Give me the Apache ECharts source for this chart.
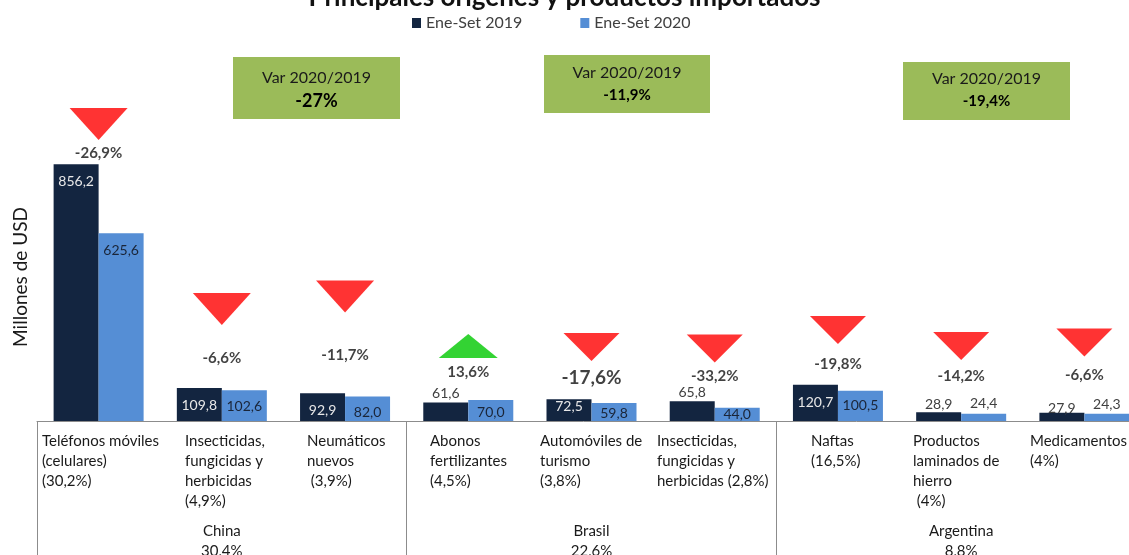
<!DOCTYPE html>
<html>
<head>
<meta charset="utf-8">
<script src="https://cdn.jsdelivr.net/npm/echarts@6/dist/echarts.min.js"></script>
<style>
html,body{margin:0;padding:0;background:#fff;}
#chart{width:1129px;height:555px;}
</style>
</head>
<body>
<div id="chart"></div>
<script>
// ---- data ----
const categories = [
  'Teléfonos móviles\n(celulares)\n(30,2%)',
  'Insecticidas,\nfungicidas y\nherbicidas\n(4,9%)',
  'Neumáticos\nnuevos\n (3,9%)',
  'Abonos\nfertilizantes\n(4,5%)',
  'Automóviles de\nturismo\n(3,8%)',
  'Insecticidas,\nfungicidas y\nherbicidas (2,8%)',
  'Naftas\n(16,5%)',
  'Productos\nlaminados de\nhierro\n (4%)',
  'Medicamentos\n(4%)'
];
const origins = ['China\n30,4%', 'Brasil\n22,6%', 'Argentina\n8,8%'];
const seriesNames = ['Ene-Set 2019', 'Ene-Set 2020'];
const v2019 = [856.2, 109.8, 92.9, 61.6, 72.5, 65.8, 120.7, 28.9, 27.9];
const v2020 = [625.6, 102.6, 82.0, 70.0, 59.8, 44.0, 100.5, 24.4, 24.3];
const varPct = ['-26,9%', '-6,6%', '-11,7%', '13,6%', '-17,6%', '-33,2%', '-19,8%', '-14,2%', '-6,6%'];
const groupVar = ['-27%', '-11,9%', '-19,4%'];
const boxTitle = 'Var 2020/2019';
// annotation levels (in axis units) for arrows and their % labels
const arrowLevel = [990, 373, 415, 250, 247, 242, 303, 250, 262];
const pctLevel = [893, 210, 220, 163, 143, 150, 190, 150, 153];

// ---- styles ----
const C_DARK = '#132540';
const C_LIGHT = '#558ed5';
const FONT = 'Lato, "Open Sans", sans-serif';
// label placement per bar: [position, distance]
const lab2019 = [['insideTop',10],['insideTop',10],['insideTop',10],['top',2],['insideTop',0],['top',2],['insideTop',11],['top',1],['top',-3]];
const lab2020 = [['insideTop',10],['insideTop',9],['insideTop',9],['insideTop',5],['insideTop',3],['insideTop',0],['insideTop',8],['top',3],['top',2]];
const textLeft = [42, 185, 307, 430, 540, 657, 811, 913, 1030];
const gridLeft = 37, gridWidth = 1109;
const catW = gridWidth / categories.length;

function barItems(vals, labs, insideColor) {
  return vals.map((v, i) => ({
    value: v,
    label: {
      position: labs[i][0],
      distance: labs[i][1],
      color: labs[i][0] === 'top' ? '#404040' : insideColor
    }
  }));
}

const rich = {};
categories.forEach((c, i) => {
  const center = gridLeft + catW * (i + 0.5);
  rich['s' + i] = { width: 2 * (center - textLeft[i]), align: 'left', fontSize: 15, lineHeight: 20, color: '#1a1a1a', fontFamily: FONT };
});

const boxes = [
  { x: 233, y: 57, w: 167, h: 62, t1: 78, t2: 101, big: 18 },
  { x: 544, y: 55, w: 166, h: 58, t1: 73, t2: 95, big: 15 },
  { x: 903, y: 62, w: 167, h: 58, t1: 79, t2: 101, big: 15 }
];
const graphics = [];
boxes.forEach((b, i) => {
  graphics.push({ type: 'rect', shape: { x: b.x, y: b.y, width: b.w, height: b.h }, style: { fill: '#9bbb59' }, z: 10 });
  graphics.push({ type: 'text', x: b.x + b.w / 2, y: b.t1, style: { text: boxTitle, fill: '#1a1a1a', font: '16px ' + FONT, textAlign: 'center', textVerticalAlign: 'middle' }, z: 11 });
  graphics.push({ type: 'text', x: b.x + b.w / 2, y: b.t2, style: { text: groupVar[i], fill: '#000', font: 'bold ' + b.big + 'px ' + FONT, textAlign: 'center', textVerticalAlign: 'middle' }, z: 11 });
});

const chart = echarts.init(document.getElementById('chart'));
chart.setOption({
  animation: false,
  backgroundColor: '#ffffff',
  title: {
    text: 'Principales orígenes y productos importados',
    left: 'center', top: -20,
    textStyle: { fontSize: 26, fontWeight: 'bold', color: '#111', fontFamily: FONT }
  },
  legend: {
    data: seriesNames,
    top: 10, left: 407,
    itemWidth: 9, itemHeight: 10, itemGap: 58,
    icon: 'rect',
    textStyle: { fontSize: 16, color: '#404040', fontFamily: FONT }
  },
  grid: { left: gridLeft, width: gridWidth, top: 121, height: 300, containLabel: false, outerBoundsMode: 'none' },
  xAxis: [
    {
      type: 'category', data: categories,
      axisLine: { show: true, lineStyle: { color: '#8c8c8c', width: 1 } },
      axisTick: { show: false },
      axisLabel: {
        interval: 0, margin: 10,
        formatter: (val, idx) => val.split('\n').map(l => '{s' + idx + '|' + l + '}').join('\n'),
        rich: rich
      }
    },
    {
      type: 'category', data: origins, position: 'bottom',
      axisLine: { show: false },
      axisTick: { show: true, length: 140, lineStyle: { color: '#8c8c8c', width: 1 } },
      axisLabel: { interval: 0, margin: 100, fontSize: 15, lineHeight: 20, color: '#1a1a1a', fontFamily: FONT }
    }
  ],
  yAxis: {
    type: 'value', min: 0, max: 1000,
    axisLine: { show: false }, axisTick: { show: false }, axisLabel: { show: false }, splitLine: { show: false },
    name: 'Millones de USD', nameLocation: 'middle', nameGap: 7,
    nameTextStyle: { fontSize: 19, color: '#1a1a1a', fontFamily: FONT, padding: [0, 12, 0, 0] }
  },
  graphic: graphics,
  series: [
    {
      name: seriesNames[0], type: 'bar', barWidth: 45, barGap: '0%',
      itemStyle: { color: C_DARK },
      label: { show: true, fontSize: 14, fontFamily: FONT, formatter: p => p.value.toFixed(1).replace('.', ',') },
      data: barItems(v2019, lab2019, '#e8e8e8')
    },
    {
      name: seriesNames[1], type: 'bar', barWidth: 45, barGap: '0%',
      itemStyle: { color: C_LIGHT },
      label: { show: true, fontSize: 14, fontFamily: FONT, formatter: p => p.value.toFixed(1).replace('.', ',') },
      data: barItems(v2020, lab2020, '#1a2538')
    },
    {
      type: 'scatter', name: 'arrows',
      data: arrowLevel.map((y, i) => {
        const up = varPct[i].charAt(0) !== '-';
        return {
          value: [i, y],
          symbol: 'triangle',
          symbolRotate: up ? 0 : 180,
          symbolSize: up ? [59, 24] : (i < 3 ? [58, 32] : [56, 28]),
          itemStyle: { color: up ? '#00c800' : '#ff0000' }
        };
      }),
      silent: true, z: 5
    },
    {
      type: 'scatter', name: 'pct',
      symbolSize: 0,
      data: pctLevel.map((y, i) => ({
        value: [i, y],
        label: { fontSize: i === 4 ? 19 : 15 }
      })),
      label: {
        show: true, position: 'inside', fontWeight: 'bold', color: '#111', fontFamily: FONT,
        formatter: p => varPct[p.dataIndex]
      },
      silent: true, z: 6
    }
  ]
});
</script>
</body>
</html>
